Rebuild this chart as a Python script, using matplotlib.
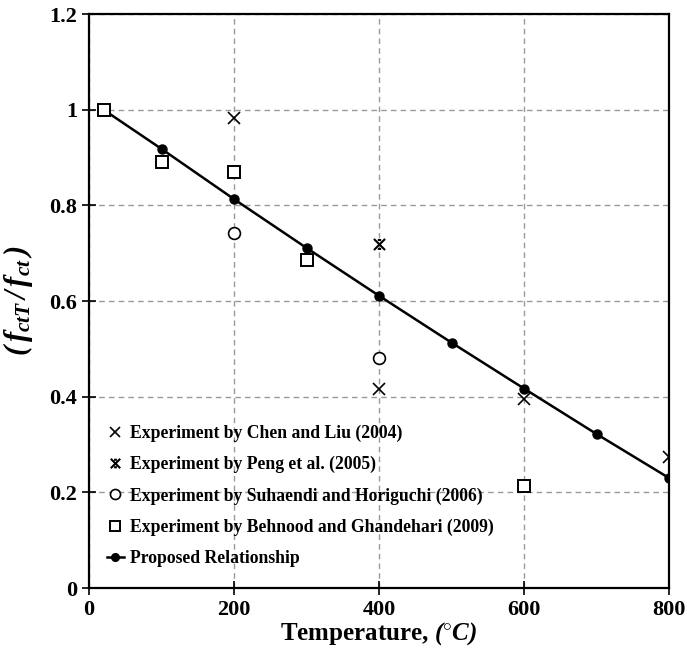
import matplotlib
matplotlib.use("Agg")
import matplotlib.pyplot as plt
from matplotlib.path import Path
import numpy as np

plt.rcParams['font.family'] = 'Liberation Serif'
plt.rcParams['font.weight'] = 'bold'
plt.rcParams['mathtext.fontset'] = 'custom'
plt.rcParams['mathtext.rm'] = 'Liberation Serif:bold:italic'
plt.rcParams['mathtext.it'] = 'Liberation Serif:bold:italic'
plt.rcParams['mathtext.bf'] = 'Liberation Serif:bold'

# Data
chen_x = [200, 400, 600, 800]
chen_y = [0.982, 0.416, 0.395, 0.273]
peng_x = [400]
peng_y = [0.720]
suh_x = [200, 400]
suh_y = [0.742, 0.482]
beh_x = [20, 100, 200, 300, 600]
beh_y = [1.0, 0.890, 0.870, 0.686, 0.214]
prop_x = [20, 100, 200, 300, 400, 500, 600, 700, 800]
prop_y = [1.0, 0.918, 0.813, 0.711, 0.611, 0.513, 0.417, 0.322, 0.230]

labels = ['Experiment by Chen and Liu (2004)',
          'Experiment by Peng et al. (2005)',
          'Experiment by Suhaendi and Horiguchi (2006)',
          'Experiment by Behnood and Ghandehari (2009)',
          'Proposed Relationship']

# custom marker for Peng: x with small horizontal caps
verts = [(-1, -1), (1, 1), (-1, 1), (1, -1),
         (-0.3, 0.8), (0.3, 0.8), (-0.3, -0.8), (0.3, -0.8)]
codes = [Path.MOVETO, Path.LINETO, Path.MOVETO, Path.LINETO,
         Path.MOVETO, Path.LINETO, Path.MOVETO, Path.LINETO]
peng_marker = Path(verts, codes)

fig = plt.figure(figsize=(6.87, 6.52), dpi=100)
ax = fig.add_axes([0.1296, 0.098, 0.8444, 0.8805])

ax.plot(prop_x, prop_y, color='black', lw=1.8, marker='o', ms=6.5,
        markevery=list(range(1, len(prop_x))), zorder=3, label=labels[4])
ax.plot(chen_x, chen_y, ls='none', marker='x', ms=8, mew=1.2,
        color='black', zorder=4, label=labels[0])
ax.plot(peng_x, peng_y, ls='none', marker=peng_marker, ms=8, mew=1.5,
        color='black', zorder=4, label=labels[1])
ax.plot(suh_x, suh_y, ls='none', marker='o', ms=8.5, mew=1.2,
        mfc='white', mec='black', zorder=4, label=labels[2])
ax.plot(beh_x, beh_y, ls='none', marker='s', ms=8.5, mew=1.4,
        mfc='white', mec='black', zorder=4, label=labels[3])

ax.set_xlim(0, 800)
ax.set_ylim(0, 1.2)
ax.set_xticks([0, 200, 400, 600, 800])
ax.set_yticks([0, 0.2, 0.4, 0.6, 0.8, 1.0, 1.2])
ax.set_yticklabels(['0', '0.2', '0.4', '0.6', '0.8', '1', '1.2'])
ax.grid(True, ls=(0, (4, 3)), color='#999999', lw=1.0)
ax.set_axisbelow(True)
for s in ax.spines.values():
    s.set_linewidth(1.6)
ax.tick_params(direction='inout', length=10, width=1.2, labelsize=16)
for t in ax.get_xticklabels() + ax.get_yticklabels():
    t.set_fontweight('bold')

ax.set_xlabel(r'Temperature, $(^{\circ}C)$', fontsize=18,
              fontweight='bold', labelpad=0)
ax.set_ylabel(r'$(\,f_{ctT}\,/\,f_{ct}\,)$', fontsize=22, labelpad=10)

h, l = ax.get_legend_handles_labels()
order = [1, 2, 3, 4, 0]
leg = ax.legend([h[i] for i in order], [l[i] for i in order],
                loc='lower left', bbox_to_anchor=(0.009, 0.015), frameon=False,
                prop={'family': 'Liberation Serif', 'weight': 'bold', 'size': 12.7},
                handlelength=1.0, handletextpad=0.3, labelspacing=0.8,
                borderaxespad=0.3, markerscale=0.85)

fig.savefig('out.png', dpi=100)
